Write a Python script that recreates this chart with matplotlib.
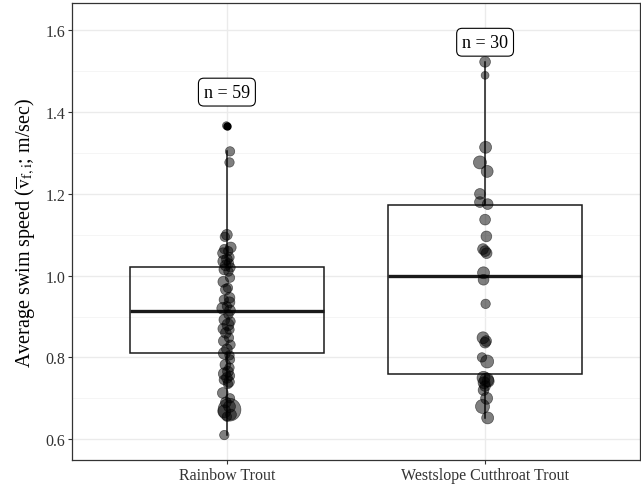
import matplotlib.pyplot as plt
from matplotlib.ticker import MultipleLocator
import numpy as np

plt.rcParams['font.family'] = ['Liberation Serif', 'DejaVu Serif']
plt.rcParams['mathtext.fontset'] = 'stix'

species = ['Rainbow Trout', 'Westslope Cutthroat Trout']
n_labels = ['n = 59', 'n = 30']
label_y = [1.449, 1.571]

# box statistics: whislo, q1, med, q3, whishi
box_stats = [
    (0.610, 0.811, 0.914, 1.020, 1.304),
    (0.652, 0.760, 0.998, 1.174, 1.523),
]
outliers = [[1.367], []]

# Rainbow Trout points
rt_speed = [1.367, 1.304, 1.277,
            1.100, 1.095, 1.069, 1.065, 1.060, 1.055, 1.045,
            1.040, 1.035, 1.030, 1.025, 1.020, 1.015, 1.010,
            0.995, 0.985, 0.970, 0.966, 0.946,
            0.941, 0.935, 0.925, 0.920, 0.915, 0.905, 0.892, 0.888, 0.880,
            0.870, 0.868, 0.860, 0.848, 0.840, 0.831, 0.820, 0.810, 0.805,
            0.795, 0.782, 0.775, 0.765,
            0.760, 0.755, 0.750, 0.745, 0.740, 0.735, 0.713, 0.700, 0.690,
            0.680, 0.672, 0.668, 0.660, 0.655, 0.610]
rt_jitter = [-0.002, 0.012, 0.010,
             0.000, -0.008, 0.015, -0.010, 0.005, -0.015, 0.010,
             0.000, -0.012, 0.008, -0.005, 0.014, -0.010, 0.006,
             0.012, -0.014, 0.004, -0.004, 0.010,
             -0.012, 0.010, 0.000, -0.016, 0.012, 0.006, -0.010, 0.014, 0.004,
             -0.014, 0.010, -0.004, 0.008, -0.012, 0.014, 0.000, -0.010, 0.010,
             0.012, -0.006, 0.010, 0.004,
             -0.010, 0.012, 0.000, -0.012, 0.008, 0.004, -0.016, 0.012, -0.004,
             0.010, 0.010, -0.010, 0.016, 0.000, -0.010]
rt_weight = [1, 2, 2,
             3, 2, 3, 2, 2, 3, 2,
             3, 4, 2, 3, 2, 3, 2,
             2, 3, 2, 3, 3,
             2, 3, 2, 4, 3, 2, 3, 2, 4,
             3, 2, 3, 2, 3, 2, 3, 4, 2,
             2, 3, 2, 3,
             4, 2, 3, 2, 3, 2, 3, 2, 3,
             4, 18, 5, 3, 2, 2]

# Westslope Cutthroat Trout points
wct_speed = [1.523, 1.490, 1.314, 1.277, 1.255, 1.200, 1.180, 1.175, 1.137,
             1.096, 1.065, 1.060, 1.055, 1.007, 0.990, 0.931, 0.848, 0.840,
             0.836, 0.800, 0.790, 0.750, 0.745, 0.742, 0.738, 0.730, 0.720,
             0.700, 0.680, 0.652]
wct_jitter = [0.000, 0.000, 0.002, -0.020, 0.008, -0.020, -0.020, 0.010, 0.000,
              0.005, -0.008, 0.000, 0.006, -0.006, -0.006, 0.002, -0.008, 0.004,
              0.000, -0.012, 0.008, -0.006, 0.006, 0.012, -0.004, 0.000, -0.006,
              0.006, -0.010, 0.010]
wct_weight = [3, 1, 4, 5, 4, 3, 3, 3, 3,
              3, 3, 3, 3, 4, 3, 2, 4, 3,
              3, 2, 5, 5, 6, 4, 4, 3, 3,
              4, 6, 4]

fig = plt.figure(figsize=(6.41, 4.85), dpi=100)
ax = fig.add_axes([72 / 641, 24 / 485, 568 / 641, 457 / 485])

stats = []
for (lo, q1, med, q3, hi), fl in zip(box_stats, outliers):
    stats.append(dict(whislo=lo, q1=q1, med=med, q3=q3, whishi=hi, fliers=fl))
ax.bxp(stats, positions=[1, 2], widths=0.75, showcaps=False, patch_artist=True,
       boxprops=dict(facecolor='none', edgecolor='#1a1a1a', lw=1.1),
       whiskerprops=dict(color='#1a1a1a', lw=1.1),
       medianprops=dict(color='#1a1a1a', lw=2.4),
       flierprops=dict(marker='o', markerfacecolor='black', markeredgecolor='black',
                       markersize=5),
       zorder=2)

for pos, speed, jit, w in [(1, rt_speed, rt_jitter, rt_weight),
                           (2, wct_speed, wct_jitter, wct_weight)]:
    x = pos + np.array(jit)
    s = 18 + 14 * np.array(w)
    ax.scatter(x, speed, s=s, facecolor=(0, 0, 0, 0.5), edgecolor=(0, 0, 0, 0.55),
               lw=0.5, zorder=3)

for pos, txt, ly in zip([1, 2], n_labels, label_y):
    ax.text(pos, ly, txt, ha='center', va='center', fontsize=13, zorder=5,
            bbox=dict(boxstyle='round,pad=0.3,rounding_size=0.3', facecolor='white',
                      edgecolor='black', lw=0.8))

ax.set_xlim(0.4, 2.6)
ax.set_ylim(0.549, 1.667)
ax.yaxis.set_major_locator(MultipleLocator(0.2))
ax.yaxis.set_minor_locator(MultipleLocator(0.1))
ax.set_xticks([1, 2])
ax.set_xticklabels(species)
ax.yaxis.set_major_formatter(plt.FuncFormatter(lambda v, p: f'{v:.1f}'))

ax.grid(True, which='major', color='#EBEBEB', lw=1.0, zorder=0)
ax.grid(True, which='minor', axis='y', color='#F4F4F4', lw=0.6, zorder=0)
ax.set_axisbelow(True)

for sp in ax.spines.values():
    sp.set_color('#333333')
    sp.set_linewidth(0.9)
ax.tick_params(axis='both', which='major', colors='#333333', length=3, width=0.8,
               labelsize=11.5, labelcolor='#333333', pad=2)
ax.tick_params(axis='y', which='minor', length=0)
ax.set_ylabel(r'Average swim speed ($\overline{\mathrm{v}}_{\mathrm{f,i}}$; m/sec)',
              fontsize=14.5, labelpad=6)

fig.savefig('out.png', dpi=100)
